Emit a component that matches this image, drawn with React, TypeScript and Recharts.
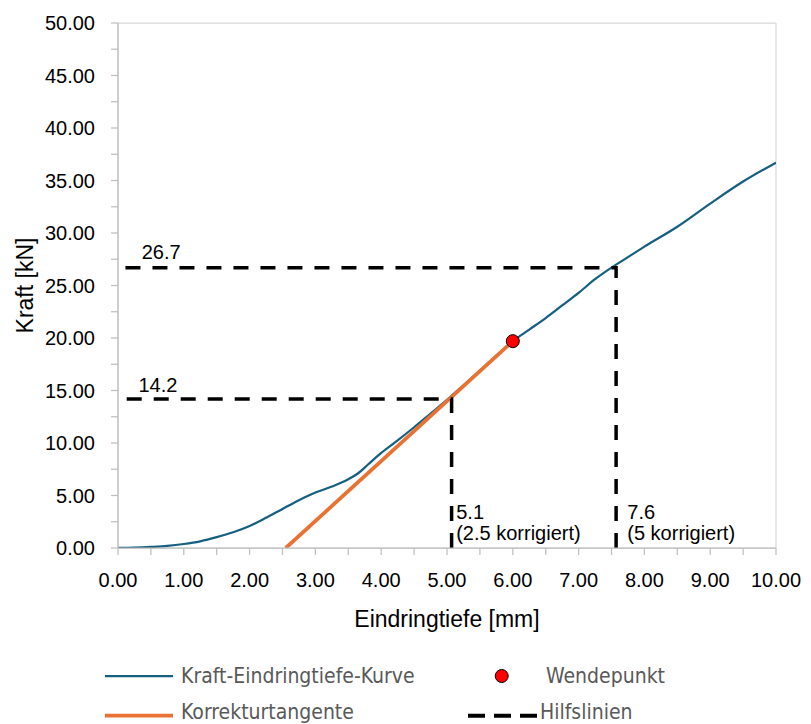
import React from 'react';
import { ComposedChart, Line, Scatter, XAxis, YAxis, CartesianGrid, Label } from 'recharts';

// Kraft-Eindringtiefe-Kurve
const depthMm = [0, 0.25, 0.5, 0.75, 1.0, 1.25, 1.5, 1.75, 2.0, 2.25, 2.5, 2.75, 3.0, 3.25, 3.5, 3.65, 3.8, 4.0, 4.25, 4.5, 4.75, 5.0, 5.25, 5.5, 5.75, 6.0, 6.25, 6.5, 6.75, 7.0, 7.25, 7.5, 7.75, 8.0, 8.5, 9.0, 9.5, 10.0];
const forceKn = [0, 0.03, 0.1, 0.2, 0.38, 0.64, 1.03, 1.5, 2.1, 2.88, 3.72, 4.55, 5.28, 5.85, 6.55, 7.12, 7.95, 9.05, 10.25, 11.5, 12.8, 14.1, 15.5, 16.9, 18.3, 19.7, 20.8, 21.9, 23.1, 24.3, 25.6, 26.7, 27.7, 28.7, 30.6, 32.8, 34.9, 36.7];

// Korrekturtangente
const tangentDepth = [2.55, 6.0];
const tangentForce = [0, 19.7];

// Wendepunkt
const inflectionDepth = [6.0];
const inflectionForce = [19.7];

// Hilfslinien
const guideADepth = [5.07, 5.07, 0];
const guideAForce = [0, 14.2, 14.2];
const guideBDepth = [7.57, 7.57, 0];
const guideBForce = [0, 26.7, 26.7];

// Annotations
const noteTexts = ['26.7', '14.2', '5.1', '(2.5 korrigiert)', '7.6', '(5 korrigiert)'];
const noteDepth = [0.36, 0.31, 5.14, 5.14, 7.74, 7.74];
const noteForce = [27.55, 14.89, 2.79, 0.79, 2.79, 0.79];

// Ticks
const xMajorTicks = [0, 1, 2, 3, 4, 5, 6, 7, 8, 9, 10];
const xAllTicks = [0, 0.5, 1, 1.5, 2, 2.5, 3, 3.5, 4, 4.5, 5, 5.5, 6, 6.5, 7, 7.5, 8, 8.5, 9, 9.5, 10];
const yMajorTicks = [0, 5, 10, 15, 20, 25, 30, 35, 40, 45, 50];
const yAllTicks = [0, 2.5, 5, 7.5, 10, 12.5, 15, 17.5, 20, 22.5, 25, 27.5, 30, 32.5, 35, 37.5, 40, 42.5, 45, 47.5, 50];

const zip = (xs: number[], ys: number[]) => xs.map((x, i) => ({ x, y: ys[i] }));
const curveData = zip(depthMm, forceKn);
const tangentData = zip(tangentDepth, tangentForce);
const inflectionData = zip(inflectionDepth, inflectionForce);
const guideAData = zip(guideADepth, guideAForce);
const guideBData = zip(guideBDepth, guideBForce);
const noteData = noteTexts.map((t, i) => ({ x: noteDepth[i], y: noteForce[i], label: t }));

const FONT = "'Liberation Sans', Arial, sans-serif";
const LEGEND_FONT = "'DejaVu Sans Condensed', 'Liberation Sans Narrow', 'DejaVu Sans', sans-serif";

const XTick = (props: any) => {
  const { x, y, payload } = props;
  if (!xMajorTicks.includes(payload.value)) return <g />;
  return (
    <text x={x} y={y} dy="0.71em" textAnchor="middle" fontSize={20} fontFamily={FONT} fill="#000">
      {Number(payload.value).toFixed(2)}
    </text>
  );
};

const YTick = (props: any) => {
  const { x, y, payload } = props;
  if (!yMajorTicks.includes(payload.value)) return <g />;
  return (
    <text x={x} y={y} dy="0.355em" textAnchor="end" fontSize={20} fontFamily={FONT} fill="#000">
      {Number(payload.value).toFixed(2)}
    </text>
  );
};

const NoteShape = (props: any) => (
  <text x={props.cx} y={props.cy} textAnchor="start" fontSize={20} fontFamily={FONT} fill="#000">
    {props.payload.label}
  </text>
);

const DotShape = (props: any) => (
  <circle cx={props.cx} cy={props.cy} r={6.5} fill="#ff0000" stroke="#000" strokeWidth={1} />
);

export default function App() {
  return (
    <div style={{ position: 'relative', width: 795, height: 716 }}>
      <ComposedChart width={795} height={640} margin={{ top: 15, right: 27, bottom: 0, left: 0 }}>
        <XAxis xAxisId="grid" type="number" dataKey="x" domain={[0, 10]} ticks={xMajorTicks} hide />
        <YAxis yAxisId="grid" type="number" domain={[0, 50]} ticks={yMajorTicks} hide />
        <CartesianGrid xAxisId="grid" yAxisId="grid" stroke="#d9d9d9" strokeWidth={1.25} />
        <XAxis
          type="number"
          dataKey="x"
          domain={[0, 10]}
          ticks={xAllTicks}
          interval={0}
          height={100}
          tickSize={7}
          tickMargin={18}
          tick={<XTick />}
          stroke="#bfbfbf"
          strokeWidth={1.25}
          allowDataOverflow
        >
          <Label
            content={(p: any) => {
              const vb = p.viewBox || {};
              return (
                <text x={vb.x + vb.width / 2} y={vb.y + 79} textAnchor="middle" fontSize={23} fontFamily={FONT} fill="#000">
                  Eindringtiefe [mm]
                </text>
              );
            }}
          />
        </XAxis>
        <YAxis
          type="number"
          domain={[0, 50]}
          ticks={yAllTicks}
          interval={0}
          width={110}
          tickSize={7}
          tickMargin={16}
          tick={<YTick />}
          stroke="#bfbfbf"
          strokeWidth={1.25}
          allowDataOverflow
        >
          <Label
            content={(p: any) => {
              const vb = p.viewBox || {};
              const cx = vb.x + 17;
              const cy = vb.y + vb.height / 2;
              return (
                <text x={cx} y={cy} transform={`rotate(-90, ${cx}, ${cy})`} textAnchor="middle" dominantBaseline="central" fontSize={23} fontFamily={FONT} fill="#000">
                  Kraft [kN]
                </text>
              );
            }}
          />
        </YAxis>
        <Line data={curveData} dataKey="y" type="monotone" stroke="#156082" strokeWidth={2.25} dot={false} isAnimationActive={false} />
        <Line data={tangentData} dataKey="y" type="linear" stroke="#E97132" strokeWidth={3.75} dot={false} isAnimationActive={false} />
        <Line data={guideAData} dataKey="y" type="linear" stroke="#000" strokeWidth={3.5} strokeDasharray="15 12" dot={false} isAnimationActive={false} />
        <Line data={guideBData} dataKey="y" type="linear" stroke="#000" strokeWidth={3.5} strokeDasharray="15 12" dot={false} isAnimationActive={false} />
        <Scatter data={noteData} dataKey="y" shape={NoteShape} isAnimationActive={false} />
        <Scatter data={inflectionData} dataKey="y" shape={DotShape} isAnimationActive={false} />
      </ComposedChart>
      <svg width={795} height={76} style={{ position: 'absolute', left: 0, top: 640 }}>
        <line x1={97} x2={165} y1={28} y2={28} stroke="#156082" strokeWidth={2.25} />
        <text x={173} y={35.3} fontSize={21} fontFamily={LEGEND_FONT} fill="#595959">Kraft-Eindringtiefe-Kurve</text>
        <circle cx={493.7} cy={28} r={6.5} fill="#ff0000" stroke="#000" strokeWidth={1} />
        <text x={538} y={35.3} fontSize={21} fontFamily={LEGEND_FONT} fill="#595959">Wendepunkt</text>
        <line x1={97} x2={165} y1={67.7} y2={67.7} stroke="#E97132" strokeWidth={3.75} />
        <text x={173} y={70.5} fontSize={21} fontFamily={LEGEND_FONT} fill="#595959">Korrekturtangente</text>
        <line x1={460} x2={530} y1={67.7} y2={67.7} stroke="#000" strokeWidth={4} strokeDasharray="17 9" />
        <text x={532} y={70.5} fontSize={21} fontFamily={LEGEND_FONT} fill="#595959">Hilfslinien</text>
      </svg>
    </div>
  );
}
